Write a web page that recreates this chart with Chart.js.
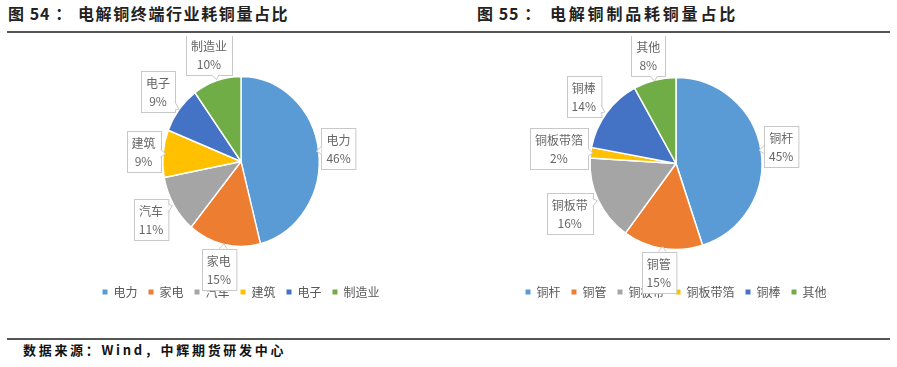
<!DOCTYPE html>
<html>
<head>
<meta charset="utf-8">
<script src="https://cdn.jsdelivr.net/npm/chart.js@4.4.1/dist/chart.umd.min.js"></script>
<style>
  body { margin: 0; background: #fff; width: 897px; height: 367px; overflow: hidden; position: relative; font-family: "Noto Sans CJK SC", sans-serif; }
  .title { position: absolute; top: 1px; font-size: 16px; font-weight: 700; color: #222; white-space: nowrap; }
  .rule { position: absolute; left: 7px; width: 883px; height: 2px; background: #555; }
  .source { position: absolute; left: 23px; top: 340px; font-size: 13px; font-weight: 700; color: #111; letter-spacing: 2.7px; white-space: nowrap; }
  .box { position: absolute; top: 36px; height: 272px; }
</style>
</head>
<body>
<div class="title" id="p1" style="left:8px;letter-spacing:1px"></div>
<div class="title" id="t1" style="left:78px;letter-spacing:1.6px"></div>
<div class="title" id="p2" style="left:477px;letter-spacing:1px"></div>
<div class="title" id="t2" style="left:550px;letter-spacing:2.8px"></div>
<div class="rule" style="top:31px"></div>
<div class="box" style="left:0;width:450px"><canvas id="pie1"></canvas></div>
<div class="box" style="left:450px;width:447px"><canvas id="pie2"></canvas></div>
<div class="rule" style="top:338px"></div>
<div class="source" id="src"></div>
<script>
// titles / source
const leftPrefix = "图 54 ：";
const leftTitle = "电解铜终端行业耗铜量占比";
const rightPrefix = "图 55 ：";
const rightTitle = "电解铜制品耗铜量占比";
const sourceText = "数据来源：Wind，中辉期货研发中心";

// 图54 data
const leftLabels = ["电力", "家电", "汽车", "建筑", "电子", "制造业"];
const leftValues = [46, 15, 11, 9, 9, 10];

// 图55 data
const rightLabels = ["铜杆", "铜管", "铜板带", "铜板带箔", "铜棒", "其他"];
const rightValues = [45, 15, 16, 2, 14, 8];

const sliceColors = ["#5B9BD5", "#ED7D31", "#A5A5A5", "#FFC000", "#4472C4", "#70AD47"];

document.getElementById("p1").textContent = leftPrefix;
document.getElementById("t1").textContent = leftTitle;
document.getElementById("p2").textContent = rightPrefix;
document.getElementById("t2").textContent = rightTitle;
document.getElementById("src").textContent = sourceText;

const FONT = '"Noto Sans CJK SC", sans-serif';

// pie squeezed horizontally (excel plot area is not square) + callout labels
const pieStylePlugin = {
    id: "pieStyle",
    beforeDatasetsDraw(chart) {
        const sx = chart.options.plugins.pieStyle.xScale;
        const arc = chart.getDatasetMeta(0).data[0];
        chart.ctx.save();
        chart.ctx.translate(arc.x, 0);
        chart.ctx.scale(sx, 1);
        chart.ctx.translate(-arc.x, 0);
    },
    afterDatasetsDraw(chart) {
        const ctx = chart.ctx;
        ctx.restore();
        const sx = chart.options.plugins.pieStyle.xScale;
        const meta = chart.getDatasetMeta(0);
        const labels = chart.data.labels;
        const values = chart.data.datasets[0].data;
        ctx.save();
        ctx.font = "12px " + FONT;
        meta.data.forEach((arc, i) => {
            const p = arc.getProps(["x", "y", "startAngle", "endAngle", "outerRadius"], true);
            const R = p.outerRadius;
            const mid = (p.startAngle + p.endAngle) / 2;
            let cx = Math.cos(mid) * sx, cy = Math.sin(mid);
            const n = Math.hypot(cx, cy);
            cx /= n; cy /= n;
            const line1 = labels[i], line2 = values[i] + "%";
            const w = Math.max(ctx.measureText(line1).width, ctx.measureText(line2).width) + 10;
            const h = 41;
            // push the box out until its nearest point clears the (elliptic) pie
            const inside = (bx, by) => {
                const nx = Math.max(bx - w / 2, Math.min(p.x, bx + w / 2));
                const ny = Math.max(by - h / 2, Math.min(p.y, by + h / 2));
                return Math.hypot((nx - p.x) / sx, ny - p.y) < R + 2;
            };
            let d = R * 0.5;
            while (inside(p.x + cx * d, p.y + cy * d)) d += 0.5;
            const bx = p.x + cx * d, by = p.y + cy * d;
            const left = Math.round(bx - w / 2) + 0.5, top = Math.round(by - h / 2) + 0.5;

            ctx.fillStyle = "#fff";
            ctx.strokeStyle = "#C8C8C8";
            ctx.lineWidth = 1;
            ctx.fillRect(left, top, w, h);
            ctx.strokeRect(left, top, w, h);

            // small pointer towards the slice
            const ux = -cx, uy = -cy;
            const tx = Math.abs(ux) > 1e-6 ? (w / 2) / Math.abs(ux) : Infinity;
            const ty = Math.abs(uy) > 1e-6 ? (h / 2) / Math.abs(uy) : Infinity;
            const t = Math.min(tx, ty);
            const ex = bx + ux * t, ey = by + uy * t;
            const tip = [ex + ux * 5, ey + uy * 5];
            let a, b;
            if (tx < ty) { a = [ex, ey - 4]; b = [ex, ey + 4]; }
            else { a = [ex - 4, ey]; b = [ex + 4, ey]; }
            ctx.beginPath();
            ctx.moveTo(a[0], a[1]);
            ctx.lineTo(tip[0], tip[1]);
            ctx.lineTo(b[0], b[1]);
            ctx.closePath();
            ctx.fill();
            ctx.beginPath();
            ctx.moveTo(a[0], a[1]);
            ctx.lineTo(tip[0], tip[1]);
            ctx.lineTo(b[0], b[1]);
            ctx.stroke();

            ctx.fillStyle = "#666";
            ctx.textAlign = "center";
            ctx.textBaseline = "middle";
            ctx.fillText(line1, bx, by - 8);
            ctx.fillText(line2, bx, by + 10);
        });
        ctx.restore();
    }
};

function makePie(id, labels, values, radius, xScale, padding) {
    return new Chart(document.getElementById(id).getContext("2d"), {
        type: "pie",
        data: {
            labels: labels,
            datasets: [{
                data: values,
                backgroundColor: sliceColors,
                borderColor: "#fff",
                borderWidth: 1.5
            }]
        },
        options: {
            responsive: true,
            maintainAspectRatio: false,
            animation: false,
            radius: radius,
            layout: { padding: padding },
            plugins: {
                tooltip: { enabled: false },
                pieStyle: { xScale: xScale },
                legend: {
                    position: "bottom",
                    labels: {
                        boxWidth: 5,
                        boxHeight: 5,
                        padding: 11,
                        color: "#595959",
                        font: { size: 12, family: FONT },
                        generateLabels: chart => chart.data.labels.map((l, i) => ({
                            text: l,
                            fillStyle: sliceColors[i],
                            strokeStyle: sliceColors[i],
                            lineWidth: 0,
                            fontColor: "#595959",
                            hidden: false,
                            index: i
                        }))
                    }
                }
            }
        },
        plugins: [pieStylePlugin]
    });
}

makePie("pie1", leftLabels, leftValues, 85, 0.92, { left: 50, right: 18, top: 12, bottom: 0 });
makePie("pie2", rightLabels, rightValues, 86, 1.0, { left: 20, right: 15, top: 16, bottom: 0 });
</script>
</body>
</html>
